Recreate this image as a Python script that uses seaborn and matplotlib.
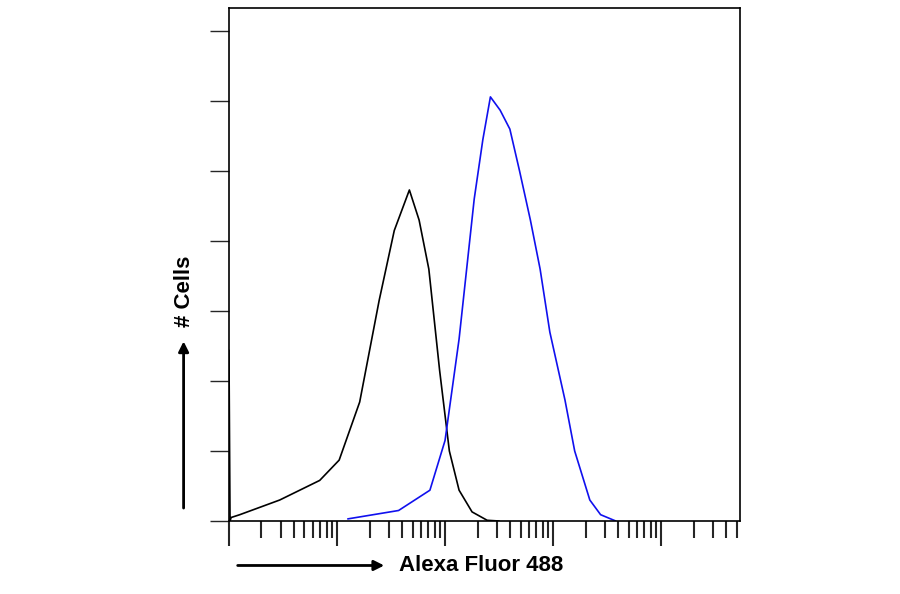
import numpy as np
import pandas as pd
import matplotlib
matplotlib.use("Agg")
import matplotlib.pyplot as plt
import seaborn as sns

# intensity (log10 units) and cell counts
control_log = [0.0, 0.01, 0.02, 0.1, 0.47, 0.84, 1.02, 1.21, 1.39, 1.53, 1.67, 1.76, 1.85, 1.95, 2.04, 2.13, 2.25, 2.39, 2.5]
control_cnt = [2.44, 0.0, 0.05, 0.09, 0.3, 0.58, 0.87, 1.7, 3.15, 4.15, 4.73, 4.3, 3.6, 2.15, 1.0, 0.44, 0.13, 0.01, 0.0]
stained_log = [1.1, 1.57, 1.86, 2.0, 2.13, 2.27, 2.35, 2.42, 2.51, 2.6, 2.69, 2.79, 2.88, 2.97, 3.11, 3.2, 3.34, 3.44, 3.58]
stained_cnt = [0.03, 0.15, 0.44, 1.15, 2.6, 4.6, 5.45, 6.06, 5.87, 5.6, 5.0, 4.3, 3.6, 2.7, 1.73, 1.0, 0.3, 0.09, 0.0]

df = pd.concat([
    pd.DataFrame({"x": np.power(10, control_log), "y": control_cnt, "s": "control"}),
    pd.DataFrame({"x": np.power(10, stained_log), "y": stained_cnt, "s": "stained"}),
])

sns.set_style("white")
fig = plt.figure(figsize=(9, 5.94), dpi=100)
ax = fig.add_axes([0.2544, 0.1229, 0.5678, 0.8636])
sns.lineplot(data=df, x="x", y="y", hue="s", palette={"control": "black", "stained": "#1010ee"},
             sort=False, estimator=None, legend=False, linewidth=1.2, ax=ax)
ax.set_xscale("log")
ax.set_xlim(1, 10 ** 4.73)
ax.set_ylim(0, 7.33)
ax.set_yticks(range(8))
ax.xaxis.set_major_locator(matplotlib.ticker.LogLocator(base=10))
ax.xaxis.set_minor_locator(matplotlib.ticker.LogLocator(base=10, subs=np.arange(2, 10)))
ax.tick_params(axis="x", which="major", direction="out", length=18, width=1.5, bottom=True, labelbottom=False)
ax.tick_params(axis="x", which="minor", direction="out", length=12, width=1.5, bottom=True)
ax.tick_params(axis="y", direction="out", length=14, width=1, left=True, labelleft=False)
ax.set_xlabel("")
ax.set_ylabel("")
for sp in ax.spines.values():
    sp.set_color("black")
    sp.set_linewidth(1.2)

fig.text(0.443, 0.048, "Alexa Fluor 488", fontsize=16, fontweight="bold", family="Liberation Sans",
         ha="left", va="center", color="black")
fig.patches.append(matplotlib.patches.FancyArrowPatch((0.261, 0.048), (0.43, 0.048), transform=fig.transFigure,
                   arrowstyle="-|>", mutation_scale=15, color="black", lw=2))
fig.text(0.205, 0.51, "# Cells", fontsize=16, fontweight="bold", family="Liberation Sans",
         rotation=90, ha="center", va="center", color="black")
fig.patches.append(matplotlib.patches.FancyArrowPatch((0.204, 0.14), (0.204, 0.43), transform=fig.transFigure,
                   arrowstyle="-|>", mutation_scale=15, color="black", lw=2))

fig.savefig("out.png", dpi=100)
